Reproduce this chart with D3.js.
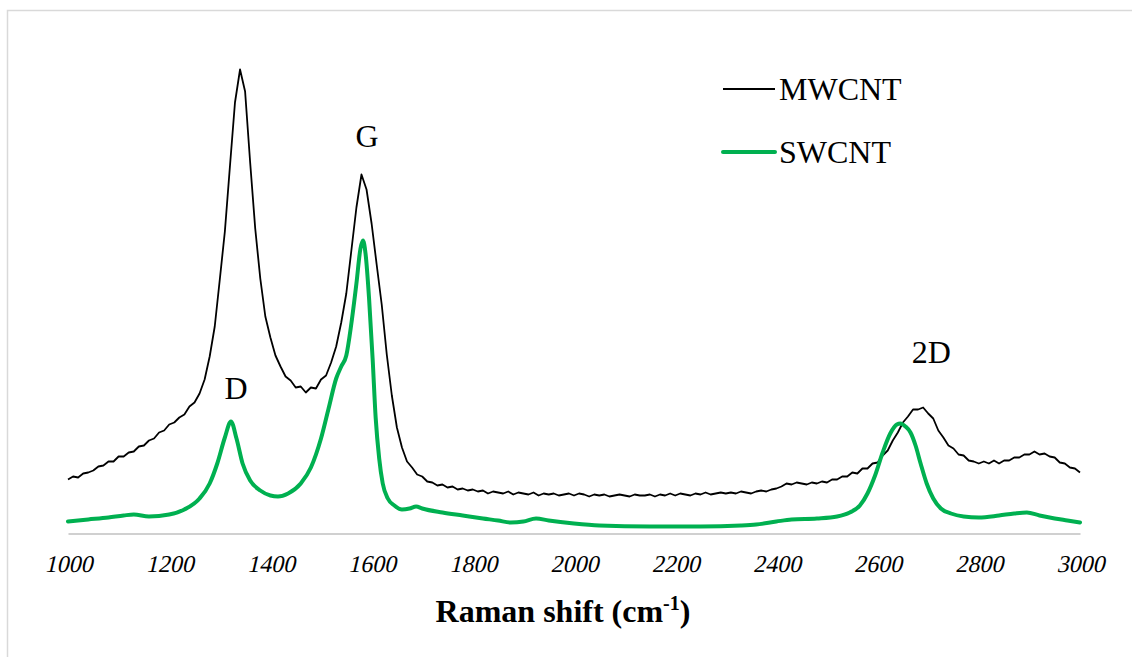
<!DOCTYPE html>
<html>
<head>
<meta charset="utf-8">
<script src="https://cdn.jsdelivr.net/npm/d3@7"></script>
<style>
  html, body { margin: 0; padding: 0; background: #fff; }
  svg { display: block; }
  text { font-family: "Liberation Serif", "Times New Roman", serif; fill: #000; }
</style>
</head>
<body>
<svg id="chart" width="1132" height="657"></svg>
<script>
// Raman spectra of carbon nanotubes (intensity in arbitrary units)

// MWCNT spectrum, sampled every 10 cm-1 from 1000 to 3000 cm-1
const mwcntShift = d3.range(1000, 3001, 10);
const mwcntIntensity = [
  54, 57, 56, 60, 61, 63, 67, 68, 72, 72,
  77, 77, 81, 82, 87, 88, 93, 95, 101, 103,
  109, 111, 116, 119, 127, 131, 140, 154, 177, 207,
  254, 302, 367, 431, 464, 442, 371, 305, 255, 217,
  196, 178, 167, 157, 153, 146, 147, 141, 146, 145,
  154, 158, 171, 187, 211, 240, 283, 326, 359, 344,
  310, 269, 229, 179, 138, 106, 86, 72, 66, 59,
  57, 52, 51, 48, 49, 46, 47, 44, 45, 43,
  44, 42, 43, 40, 42, 41, 40, 42, 39, 41,
  40, 39, 41, 38, 40, 39, 40, 38, 39, 40,
  38, 40, 39, 37, 39, 38, 39, 37, 38, 39,
  38, 37, 39, 38, 38, 39, 37, 39, 38, 40,
  38, 40, 39, 38, 40, 39, 41, 39, 40, 41,
  40, 41, 40, 42, 41, 40, 42, 43, 42, 44,
  45, 47, 50, 49, 51, 50, 49, 51, 50, 52,
  51, 54, 54, 57, 57, 61, 60, 65, 65, 70,
  71, 78, 83, 93, 101, 111, 117, 124, 124, 126,
  120, 115, 103, 96, 88, 85, 79, 78, 73, 72,
  70, 72, 70, 73, 70, 73, 73, 76, 76, 79,
  79, 82, 79, 80, 77, 76, 71, 70, 66, 65,
  61
];

// SWCNT spectrum (smooth trace)
const swcntShift = [
  1000, 1040, 1080, 1110, 1130, 1160, 1200, 1230, 1260, 1280,
  1295, 1310, 1322, 1333, 1345, 1360, 1380, 1400, 1415, 1435,
  1460, 1480, 1500, 1515, 1530, 1540, 1550, 1560, 1570, 1578,
  1583, 1588, 1595, 1602, 1608, 1615, 1622, 1632, 1645, 1660,
  1675, 1688, 1700, 1740, 1780, 1820, 1850, 1875, 1900, 1925,
  1950, 2000, 2050, 2150, 2250, 2330, 2360, 2400, 2430, 2480,
  2520, 2545, 2565, 2580, 2595, 2610, 2625, 2638, 2645, 2655,
  2665, 2675, 2685, 2697, 2710, 2725, 2745, 2770, 2800, 2840,
  2870, 2895, 2920, 2950, 2975, 3000
];
const swcntIntensity = [
  12, 14, 16, 18, 19, 17, 19, 24, 35, 50,
  70, 96, 112, 95, 70, 53, 43, 38, 37, 40,
  50, 66, 95, 125, 155, 167, 178, 210, 250, 285,
  293, 280, 235, 175, 116, 75, 50, 35, 28, 24,
  25, 27, 25, 21, 18, 15, 13, 11, 12, 15,
  13, 10, 8, 7, 7, 8, 9, 12, 14, 15,
  17, 21, 28, 40, 58, 81, 100, 109, 110, 107,
  101, 88, 70, 50, 35, 25, 20, 17, 16, 18,
  20, 21, 18, 15, 13, 11
];

const xTicks = [1000, 1200, 1400, 1600, 1800, 2000, 2200, 2400, 2600, 2800, 3000];

const seriesNames = ["MWCNT", "SWCNT"];
const seriesColors = ["#000000", "#00b050"];

const peakLabels = [
  { text: "D", shift: 1332, level: 135 },
  { text: "G", shift: 1591, level: 387 },
  { text: "2D", shift: 2706, level: 171 }
];

const svg = d3.select("#chart");
const W = 1132, H = 657;

// chart frame (only its left and top edges fall inside the view)
svg.append("rect").attr("x", 0).attr("y", 0).attr("width", W).attr("height", H).attr("fill", "#fff");
svg.append("path")
  .attr("d", `M7.5,${H} V10.5 H${W}`)
  .attr("fill", "none").attr("stroke", "#d9d9d9").attr("stroke-width", 1.5);

const x = d3.scaleLinear().domain([1000, 3000]).range([68, 1080]);
const y = d3.scaleLinear().domain([0, 500]).range([533.5, 33.5]);

// horizontal axis; labels slanted on the baseline
const axis = d3.axisBottom(x).tickValues(xTicks).tickSize(0).tickPadding(0).tickFormat(d3.format("d"));
const gx = svg.append("g").attr("transform", `translate(0,${y(0)})`).call(axis);
gx.attr("font-family", null).attr("font-size", null);
gx.select(".domain").attr("stroke", "#d0d0d0").attr("stroke-width", 2);
gx.selectAll(".tick text")
  .attr("dy", null).attr("y", 0)
  .attr("transform", "translate(0,38) skewX(-13)")
  .style("font-family", "Liberation Serif")
  .style("font-size", "24px")
  .attr("fill", "#000");

// axis title
const title = svg.append("text")
  .attr("x", 563).attr("y", 622)
  .attr("text-anchor", "middle")
  .style("font-size", "32px").style("font-weight", "bold");
title.append("tspan").text("Raman shift (cm");
title.append("tspan").attr("dy", -12).style("font-size", "20px").text("-1");
title.append("tspan").attr("dy", 12).text(")");

// spectra
const mwcnt = mwcntShift.map((s, i) => [s, mwcntIntensity[i]]);
const swcnt = swcntShift.map((s, i) => [s, swcntIntensity[i]]);

const jagged = d3.line().x(d => x(d[0])).y(d => y(d[1]));
const smooth = d3.line().x(d => x(d[0])).y(d => y(d[1])).curve(d3.curveMonotoneX);

svg.append("path").datum(mwcnt)
  .attr("d", jagged)
  .attr("fill", "none").attr("stroke", seriesColors[0])
  .attr("stroke-width", 1.8).attr("stroke-linejoin", "round");

svg.append("path").datum(swcnt)
  .attr("d", smooth)
  .attr("fill", "none").attr("stroke", seriesColors[1])
  .attr("stroke-width", 4).attr("stroke-linejoin", "round").attr("stroke-linecap", "round");

// peak labels
svg.selectAll("text.peak").data(peakLabels).join("text")
  .attr("class", "peak")
  .attr("x", d => x(d.shift))
  .attr("y", d => y(d.level))
  .attr("text-anchor", "middle")
  .style("font-size", "32px")
  .text(d => d.text);

// legend
const legend = svg.append("g");
seriesNames.forEach((name, i) => {
  const ly = 89 + i * 63;
  legend.append("line")
    .attr("x1", 723).attr("x2", 775).attr("y1", ly).attr("y2", ly)
    .attr("stroke", seriesColors[i]).attr("stroke-width", i === 0 ? 2 : 4)
    .attr("stroke-linecap", i === 0 ? "butt" : "round");
  legend.append("text")
    .attr("x", 779).attr("y", ly + 11)
    .style("font-size", "32px")
    .text(name);
});
</script>
</body>
</html>
